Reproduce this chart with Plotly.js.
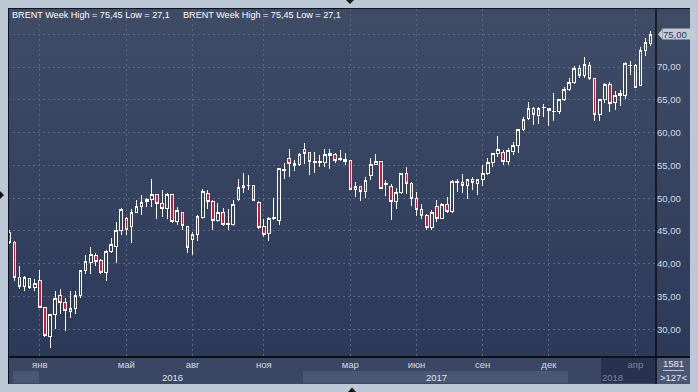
<!DOCTYPE html>
<html><head><meta charset="utf-8">
<script src="https://cdn.plot.ly/plotly-3.0.1.min.js"></script>
<style>
html,body{margin:0;padding:0;background:#bcc8d8;}
#wrap{position:relative;width:698px;height:392px;overflow:hidden;background:#bcc8d8;}
#bg{position:absolute;left:8px;top:8px;width:682px;height:349px;background:linear-gradient(#3f4c66,#2c3a5a);}
#chart{position:absolute;left:0;top:0;width:698px;height:392px;}
#chart .boxlayer path{shape-rendering:crispEdges;}
#chart .gridlayer path{shape-rendering:crispEdges;}
</style></head><body>
<div id="wrap"><div id="bg"></div><div id="chart"></div></div>
<script>
// Weekly BRENT candles (index 0 = first visible week)
const openV = [44.8,43.3,37.9,36.6,37.8,36.4,37.4,33.3,28.9,32.2,
35.1,34.1,32.7,33.2,35.1,39.0,40.2,41.3,40.5,38.7,
41.9,42.6,45.1,46.9,45.7,47.8,48.7,49.5,49.8,50.5,
49.2,48.5,50.6,46.4,47.8,45.7,43.7,44.4,47.1,50.7,
49.5,46.6,47.8,46.0,46.0,49.8,51.7,51.9,51.9,49.4,
45.7,44.6,46.9,46.6,54.3,56.1,55.3,55.1,57.4,57.0,
55.5,55.5,55.5,56.8,56.7,55.9,55.9,55.7,51.4,51.8,
51.0,53.4,55.1,55.6,52.1,51.8,49.5,50.8,53.8,52.3,
50.0,48.3,47.3,45.6,48.8,46.9,49.1,47.9,52.4,52.4,
51.9,52.9,52.3,52.8,53.8,55.5,56.8,57.0,55.6,57.1,
58.0,60.5,62.2,63.7,62.6,63.8,63.7,63.2,63.2,65.1,
66.6,67.7,69.8,68.7,70.3,68.3,62.7,65.0,67.3,64.6,
65.6,65.7,70.2,70.2,67.2,72.5,73.6];
const highV = [45.2,43.4,39.7,38.1,37.9,37.6,39.0,33.4,32.3,35.9,
36.1,34.7,35.9,35.9,39.1,41.4,42.5,41.7,40.7,42.1,
43.9,46.3,48.5,47.2,48.3,49.8,50.5,50.1,52.9,50.7,
51.2,50.8,50.7,48.6,47.9,45.8,44.9,47.4,51.4,51.2,
49.8,49.2,48.5,48.3,49.8,52.9,53.8,53.5,52.0,49.6,
46.9,47.2,50.0,54.6,55.3,57.5,55.8,56.9,58.4,57.1,
57.0,56.6,57.5,57.5,56.9,57.3,56.9,55.8,52.5,51.9,
53.3,56.1,56.7,55.7,52.8,52.2,51.5,53.9,54.7,52.5,
51.0,49.1,47.6,48.2,49.8,49.2,50.2,52.8,53.0,53.7,
52.9,53.3,53.0,55.1,56.1,56.9,59.5,57.3,57.6,58.5,
60.6,62.4,64.6,63.9,63.9,64.4,63.8,66.0,65.2,67.0,
68.3,70.2,70.3,71.5,70.7,68.4,65.2,67.5,67.7,66.3,
66.5,70.8,70.9,70.5,73.1,74.5,75.45];
const lowV = [43.0,37.3,36.1,35.9,36.2,35.9,33.2,28.9,27.1,30.0,
32.3,29.8,31.8,32.4,34.7,38.5,38.4,39.6,38.5,37.3,
41.6,40.1,44.4,44.4,43.2,47.7,47.4,48.6,48.6,46.9,
47.2,46.8,46.2,45.9,45.1,41.7,41.3,43.4,46.8,48.3,
45.2,46.3,45.7,45.2,45.7,49.5,50.8,51.2,49.5,45.3,
44.1,43.5,46.7,45.9,52.9,53.2,54.1,54.9,55.2,53.6,
53.8,54.7,54.7,54.4,55.3,55.6,55.1,51.2,50.2,49.6,
50.0,52.8,55.0,51.4,50.3,46.6,48.4,50.6,50.7,48.8,
47.3,46.8,45.2,45.1,46.3,46.8,47.7,47.8,51.0,50.8,
49.9,51.3,50.5,51.9,53.5,54.8,56.3,55.1,55.1,56.6,
56.9,60.2,62.0,61.2,61.3,62.4,61.0,61.7,62.9,64.9,
66.3,67.4,68.4,68.4,68.1,61.7,61.7,64.5,63.2,63.5,
64.1,65.2,68.8,66.8,67.1,71.7,73.2];
const closeV = [43.3,37.9,36.6,37.9,36.4,37.0,33.4,29.1,32.2,34.7,
34.1,32.9,33.1,35.1,39.0,40.3,41.4,40.4,38.7,41.9,
42.9,45.1,48.2,45.3,47.8,48.8,49.4,49.8,50.5,49.2,
48.5,50.6,46.4,48.1,45.8,42.5,44.5,47.2,51.0,49.5,
46.6,47.8,46.0,46.1,49.1,51.7,52.0,52.0,49.6,45.6,
44.4,46.9,47.1,54.5,54.4,55.3,55.0,56.7,56.8,55.6,
55.6,55.6,56.7,56.5,55.8,56.0,55.6,51.4,51.8,51.0,
52.7,55.2,55.6,51.5,52.2,49.5,50.9,53.8,52.3,50.0,
48.3,47.3,45.6,47.8,46.9,49.1,47.9,52.5,52.5,51.9,
52.9,52.4,52.8,53.8,55.5,56.8,57.5,55.6,57.2,58.0,
60.5,62.0,63.7,62.7,63.7,63.9,63.4,63.3,65.1,66.6,
67.7,69.8,68.7,70.4,68.3,62.7,65.0,67.4,64.5,65.6,
66.0,70.5,70.3,66.9,72.6,73.7,75.0];

const monthTickIdx = [6,23,36,50,67,80,93,106,123];
const monthLabels = ['янв','май','авг','ноя','мар','июн','сен','дек','апр'];
const yearStartIdx = [6,58,110];
const yearLabels = ['2016','2017','2018'];
const priceTicks = [30,35,40,45,50,55,60,65,70,75];
const headerText = 'BRENT Week High = 75,45 Low = 27,1';
const barsTotal = '1581';
const barsVisible = '>127<';

const xIdx = openV.map((_, i) => i);
const nBars = openV.length;
const lastClose = closeV[nBars - 1];
const fmt = v => v.toFixed(2).replace('.', ',');

// pixel helpers for decoration (plot area 8..656 x 9..357)
const PL = 8, PR = 656, PT = 9, PB = 357;
const X = px => (px - PL) / (PR - PL);
const Y = py => (PB - py) / (PB - PT);
function rect(x0, y0, x1, y1, fill, layer) {
  return {type:'rect', xref:'paper', yref:'paper', x0:X(x0), x1:X(x1), y0:Y(y0), y1:Y(y1),
    fillcolor:fill, line:{width:0}, layer:layer || 'below'};
}
function seg(x0, y0, x1, y1, color, w) {
  return {type:'line', xref:'paper', yref:'paper', x0:X(x0), x1:X(x1), y0:Y(y0), y1:Y(y1),
    line:{color:color, width:w || 1}, layer:'above'};
}
function tri(pts, color) {
  return {type:'path', xref:'paper', yref:'paper',
    path:'M' + pts.map(p => X(p[0]) + ',' + Y(p[1])).join('L') + 'Z',
    fillcolor:color, line:{width:0}, layer:'above'};
}

const font = 'Liberation Sans, Arial, sans-serif';
const shapes = [
  rect(8, 357, 690, 384, '#3a4764'),
  rect(13, 371, 39, 383, '#4a5774'),
  rect(303, 371, 568, 383, '#4a5774'),
  rect(601, 358, 655, 383, '#27334e'),
  rect(657, 358, 690, 384, '#4a5774'),
  seg(8, 357, 690, 357, '#000000', 1.5),
  seg(656, 8, 656, 384, '#000000', 1.2),
  seg(8.5, 8, 8.5, 384, '#0d1220', 1),
  seg(8, 8.5, 690, 8.5, '#0d1220', 1),
  seg(663, 370.5, 684, 370.5, '#b8c2d0', 1),
  tri([[346,0],[354,0],[350,4]], '#101010'),
  tri([[348,392],[356,392],[352,387.5]], '#101010'),
  tri([[0,191],[0,199],[4,195]], '#101010'),
  tri([[658,34.3],[662.5,29],[662.5,39.6]], '#c6cbd3')
];

const annotations = [
  {xref:'paper', yref:'paper', x:X(10), y:Y(15), xanchor:'left', yanchor:'middle', showarrow:false,
    text:headerText, font:{family:font, size:9.1, color:'#ffffff'}},
  {xref:'paper', yref:'paper', x:X(181), y:Y(15), xanchor:'left', yanchor:'middle', showarrow:false,
    text:headerText, font:{family:font, size:9.1, color:'#ffffff'}},
  {xref:'paper', yref:'paper', x:X(673), y:Y(363.5), xanchor:'center', yanchor:'middle', showarrow:false,
    text:barsTotal, font:{family:font, size:9.5, color:'#e6eaf0'}},
  {xref:'paper', yref:'paper', x:X(673), y:Y(377), xanchor:'center', yanchor:'middle', showarrow:false,
    text:barsVisible.replace('<','&lt;').replace('>','&gt;'), font:{family:font, size:9.5, color:'#e6eaf0'}},
  {xref:'paper', yref:'y', x:X(662), y:lastClose, xanchor:'left', yanchor:'middle', showarrow:false,
    text:fmt(lastClose), align:'left', width:31, height:10, borderpad:0, bgcolor:'#c6cbd3',
    font:{family:font, size:9.5, color:'#173a78'}}
];
yearLabels.forEach((t, k) => {
  const s = yearStartIdx[k];
  const e = k + 1 < yearStartIdx.length ? yearStartIdx[k+1] : nBars;
  annotations.push({xref:'x', yref:'paper', x:(s + e) / 2, y:Y(377), xanchor:'center', yanchor:'middle',
    showarrow:false, text:t, font:{family:font, size:9.5, color: k === 2 ? '#7c879c' : '#dfe4ec'}});
});

const trace = {
  type:'candlestick', x:xIdx, open:openV, high:highV, low:lowV, close:closeV,
  increasing:{line:{color:'#ffffff', width:1}, fillcolor:'rgba(0,0,0,0)'},
  decreasing:{line:{color:'#ffffff', width:1}, fillcolor:'#e8102f'},
  whiskerwidth:0, hoverinfo:'none'
};

const layout = {
  width:698, height:392, margin:{l:PL, r:698-PR, t:PT, b:392-PB, pad:0},
  paper_bgcolor:'rgba(0,0,0,0)', plot_bgcolor:'rgba(0,0,0,0)',
  showlegend:false, boxgap:0.26,
  font:{family:font, size:9.5, color:'#d4dae4'},
  xaxis:{range:[-0.255, 127.05], rangeslider:{visible:false}, tickmode:'array',
    tickvals:monthTickIdx,
    ticktext:monthLabels.map((m, i) => i === monthLabels.length - 1 ? '<span style="color:#7c879c">' + m + '</span>' : m),
    showgrid:true, gridcolor:'#5a6886', griddash:'2px,3px', gridwidth:1,
    zeroline:false, showline:false, ticks:'', tickfont:{family:font, size:9.5, color:'#d4dae4'}, fixedrange:true},
  yaxis:{range:[25.775, 78.859], side:'right', tickmode:'array', tickvals:priceTicks,
    ticktext:priceTicks.map(v => v === lastClose ? '' : fmt(v)),
    showgrid:true, gridcolor:'#5a6886', griddash:'2px,3px', gridwidth:1,
    zeroline:false, showline:false, ticks:'', tickfont:{family:font, size:9.5, color:'#d4dae4'}, fixedrange:true},
  shapes:shapes, annotations:annotations
};

Plotly.newPlot('chart', [trace], layout, {staticPlot:true, displayModeBar:false});
</script></body></html>
